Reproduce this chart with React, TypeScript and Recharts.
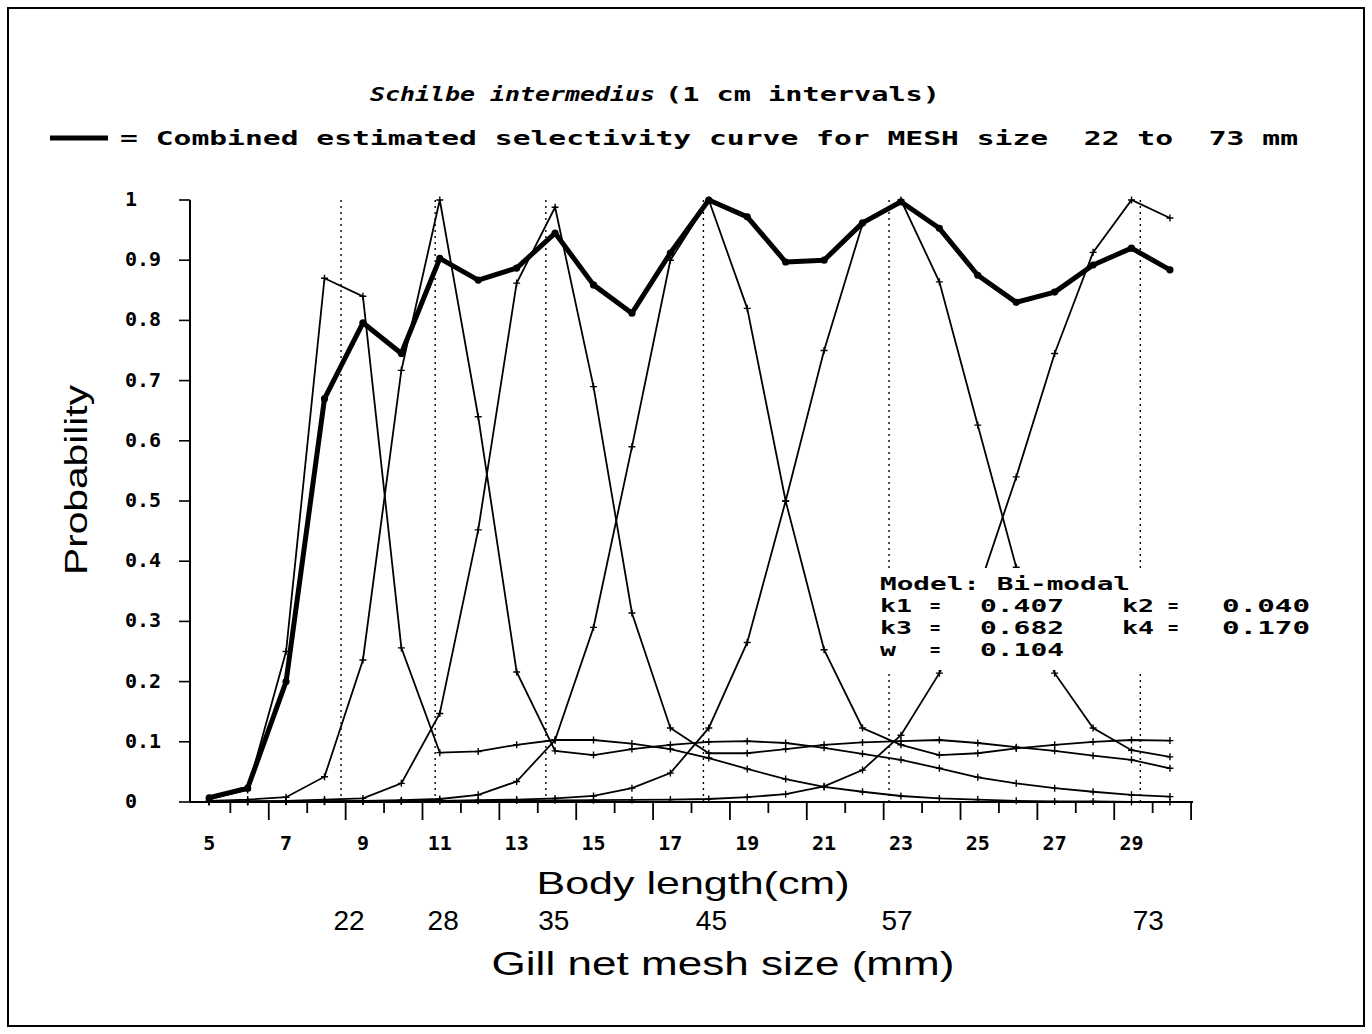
import React from 'react';
import { LineChart, Line, XAxis, YAxis, ReferenceLine } from 'recharts';

// body length (cm) at which every curve is sampled
const lengths = [5, 6, 7, 8, 9, 10, 11, 12, 13, 14, 15, 16, 17, 18, 19, 20, 21, 22, 23, 24, 25, 26, 27, 28, 29, 30];

// selectivity per mesh size
const mesh22 = [0.005, 0.02, 0.25, 0.87, 0.84, 0.256, 0.082, 0.084, 0.095, 0.103, 0.103, 0.097, 0.088, 0.073, 0.055, 0.038, 0.025, 0.017, 0.01, 0.006, 0.004, 0.002, 0.001, 0.001, 0, 0];
const mesh28 = [0.002, 0.004, 0.008, 0.042, 0.236, 0.717, 1.0, 0.64, 0.216, 0.085, 0.078, 0.088, 0.095, 0.1, 0.101, 0.098, 0.09, 0.08, 0.07, 0.056, 0.041, 0.031, 0.023, 0.017, 0.012, 0.009];
const mesh35 = [0.001, 0.0015, 0.002, 0.004, 0.006, 0.031, 0.147, 0.452, 0.862, 0.988, 0.69, 0.314, 0.123, 0.081, 0.081, 0.088, 0.095, 0.099, 0.101, 0.103, 0.098, 0.091, 0.085, 0.077, 0.07, 0.056];
const mesh45 = [0.0003, 0.0005, 0.001, 0.0014, 0.002, 0.003, 0.005, 0.012, 0.034, 0.103, 0.29, 0.59, 0.9, 1.0, 0.82, 0.5, 0.253, 0.123, 0.095, 0.078, 0.081, 0.089, 0.095, 0.1, 0.103, 0.102];
const mesh57 = [0.0003, 0.0003, 0.0004, 0.0006, 0.001, 0.0014, 0.002, 0.003, 0.004, 0.006, 0.01, 0.023, 0.048, 0.123, 0.265, 0.5, 0.75, 0.96, 1.0, 0.864, 0.626, 0.39, 0.214, 0.123, 0.086, 0.075];
const mesh73 = [0.0005, 0.0006, 0.0008, 0.001, 0.0012, 0.0014, 0.0017, 0.002, 0.0023, 0.0027, 0.003, 0.0035, 0.004, 0.005, 0.008, 0.013, 0.026, 0.053, 0.111, 0.214, 0.35, 0.54, 0.745, 0.913, 1.0, 0.97];
const combined = [0.007, 0.023, 0.2, 0.67, 0.796, 0.745, 0.903, 0.867, 0.887, 0.945, 0.859, 0.812, 0.912, 1.0, 0.972, 0.897, 0.9, 0.962, 0.997, 0.953, 0.875, 0.83, 0.847, 0.892, 0.92, 0.884];

// mesh sizes (mm) and the body length of their main mode (dotted lines)
const meshSizes = [22, 28, 35, 45, 57, 73];
const meshModes = [8.43, 10.88, 13.76, 17.86, 22.69, 29.23];

const xLabelTicks = [5, 7, 9, 11, 13, 15, 17, 19, 21, 23, 25, 27, 29];
const xMarkTicks = [5.55, 6.55, 7.55, 8.55, 9.55, 10.55, 11.55, 12.55, 13.55, 14.55, 15.55, 16.55, 17.55, 18.55, 19.55, 20.55, 21.55, 22.55, 23.55, 24.55, 25.55, 26.55, 27.55, 28.55, 29.55, 30.55];
const yTicks = [0, 0.1, 0.2, 0.3, 0.4, 0.5, 0.6, 0.7, 0.8, 0.9, 1];

// fitted model parameters shown in the box
const modelRows = [
  ['k1', '0.407', 'k2', '0.040'],
  ['k3', '0.682', 'k4', '0.170'],
  ['w', '0.104', '', ''],
];

const meshSeries = [
  { key: 'm22', values: mesh22 },
  { key: 'm28', values: mesh28 },
  { key: 'm35', values: mesh35 },
  { key: 'm45', values: mesh45 },
  { key: 'm57', values: mesh57 },
  { key: 'm73', values: mesh73 },
];

const rows = lengths.map((len, i) => {
  const row: Record<string, number> = { len, combined: combined[i] };
  meshSeries.forEach(s => { row[s.key] = s.values[i]; });
  return row;
});

const MONO = '"DejaVu Sans Mono", monospace';
const SANS = '"Liberation Sans", Arial, sans-serif';

const XTick = (props: any) => {
  const { x, y, payload } = props;
  const v = payload.value;
  if (xLabelTicks.includes(v)) {
    return (
      <text x={x} y={y + 48} textAnchor="middle" fontFamily={MONO} fontWeight="bold" fontSize={20} fill="#000">
        {v}
      </text>
    );
  }
  const long = Math.floor(v) % 2 === 0;
  return <line x1={x} x2={x} y1={y} y2={y + (long ? 18 : 11)} stroke="#000" strokeWidth={1.8} />;
};

const MeshTick = (props: any) => {
  const { x, y, payload } = props;
  const idx = meshModes.indexOf(payload.value);
  return (
    <text x={x + 8} y={y + 68} textAnchor="middle" fontFamily={SANS} fontSize={28} fill="#000">
      {meshSizes[idx]}
    </text>
  );
};

const YTick = (props: any) => {
  const { x, y, payload } = props;
  return (
    <text x={x - 54} y={y + 6} textAnchor="start" fontFamily={MONO} fontWeight="bold" fontSize={20} fill="#000">
      {String(payload.value)}
    </text>
  );
};

const plusDot = (p: any) => {
  const { cx, cy, index } = p;
  if (cx == null || cy == null) return <g key={index} />;
  return (
    <path key={index} d={`M${cx - 3.5},${cy}H${cx + 3.5}M${cx},${cy - 3.5}V${cy + 3.5}`} stroke="#000" strokeWidth={1.4} />
  );
};

const boldDot = (p: any) => {
  const { cx, cy, index } = p;
  if (cx == null || cy == null) return <g key={index} />;
  return <circle key={index} cx={cx} cy={cy} r={3.6} fill="#000" />;
};

const App: React.FC = () => {
  return (
    <div style={{ position: 'absolute', left: 0, top: 0, width: 1372, height: 1034, background: '#fff' }}>
      <LineChart
        width={1372}
        height={1034}
        data={rows}
        margin={{ top: 200, right: 179, bottom: 72, left: 0 }}
      >
        <XAxis
          dataKey="len"
          type="number"
          domain={[4.5, 30.6]}
          ticks={[...xLabelTicks, ...xMarkTicks].sort((a, b) => a - b)}
          interval={0}
          tick={<XTick />}
          tickLine={false}
          tickSize={0}
          tickMargin={0}
          axisLine={{ stroke: '#000', strokeWidth: 2 }}
          height={60}
        />
        <XAxis
          xAxisId="mesh"
          dataKey="len"
          type="number"
          domain={[4.5, 30.6]}
          ticks={meshModes}
          interval={0}
          tick={<MeshTick />}
          tickLine={false}
          tickSize={0}
          tickMargin={0}
          axisLine={false}
          height={100}
        />
        <YAxis
          type="number"
          domain={[0, 1]}
          ticks={yTicks}
          interval={0}
          width={190}
          tick={<YTick />}
          tickSize={11}
          tickMargin={0}
          axisLine={{ stroke: '#000', strokeWidth: 2 }}
          tickLine={{ stroke: '#000', strokeWidth: 1.6 }}
        />
        {meshModes.map(m => (
          <ReferenceLine key={m} x={m} stroke="#000" strokeWidth={1.4} strokeDasharray="2 4" />
        ))}
        {meshSeries.map(s => (
          <Line
            key={s.key}
            type="linear"
            dataKey={s.key}
            stroke="#000"
            strokeWidth={1.8}
            dot={plusDot}
            activeDot={false}
            isAnimationActive={false}
          />
        ))}
        <Line
          type="linear"
          dataKey="combined"
          stroke="#000"
          strokeWidth={5}
          strokeLinejoin="round"
          dot={boldDot}
          activeDot={false}
          isAnimationActive={false}
        />
      </LineChart>

      <svg width={1372} height={1034} style={{ position: 'absolute', left: 0, top: 0, pointerEvents: 'none' }}>
        <rect x={8} y={8} width={1356} height={1018} fill="none" stroke="#000" strokeWidth={2} />

        <text x={370} y={101} fontFamily={MONO} fontWeight="bold" fontStyle="italic" fontSize={19} textLength={285} lengthAdjust="spacingAndGlyphs">
          Schilbe intermedius
        </text>
        <text x={665} y={101} fontFamily={MONO} fontWeight="bold" fontSize={19} textLength={275} lengthAdjust="spacingAndGlyphs">
          (1 cm intervals)
        </text>

        <line x1={50} x2={108} y1={138} y2={138} stroke="#000" strokeWidth={5} />
        <text x={120} y={145} fontFamily={MONO} fontWeight="bold" fontSize={19} textLength={1178} lengthAdjust="spacingAndGlyphs" xmlSpace="preserve" style={{ whiteSpace: 'pre' }}>
          {'= Combined estimated selectivity curve for MESH size  22 to  73 mm'}
        </text>

        <text transform="translate(87,480) rotate(-90)" textAnchor="middle" fontFamily={SANS} fontSize={32} textLength={190} lengthAdjust="spacingAndGlyphs">
          Probability
        </text>
        <text x={693} y={894} textAnchor="middle" fontFamily={SANS} fontSize={32} textLength={313} lengthAdjust="spacingAndGlyphs">
          Body length(cm)
        </text>
        <text x={723} y={975} textAnchor="middle" fontFamily={SANS} fontSize={33} textLength={463} lengthAdjust="spacingAndGlyphs">
          Gill net mesh size (mm)
        </text>

        <rect x={870} y={568} width={452} height={102} fill="#fff" />
        <g fontFamily={MONO} fontWeight="bold" fontSize={17} fill="#000">
          <text x={880} y={590} textLength={250} lengthAdjust="spacingAndGlyphs">Model: Bi-modal</text>
          {modelRows.map((r, i) => (
            <g key={i}>
              <text x={880} y={612 + i * 22} textLength={r[0].length * 16} lengthAdjust="spacingAndGlyphs">{r[0]}</text>
              <text x={930} y={612 + i * 22}>=</text>
              <text x={980} y={612 + i * 22} textLength={84} lengthAdjust="spacingAndGlyphs">{r[1]}</text>
              {r[2] && (
                <>
                  <text x={1122} y={612 + i * 22} textLength={32} lengthAdjust="spacingAndGlyphs">{r[2]}</text>
                  <text x={1168} y={612 + i * 22}>=</text>
                  <text x={1222} y={612 + i * 22} textLength={88} lengthAdjust="spacingAndGlyphs">{r[3]}</text>
                </>
              )}
            </g>
          ))}
        </g>
      </svg>
    </div>
  );
};

export default App;
